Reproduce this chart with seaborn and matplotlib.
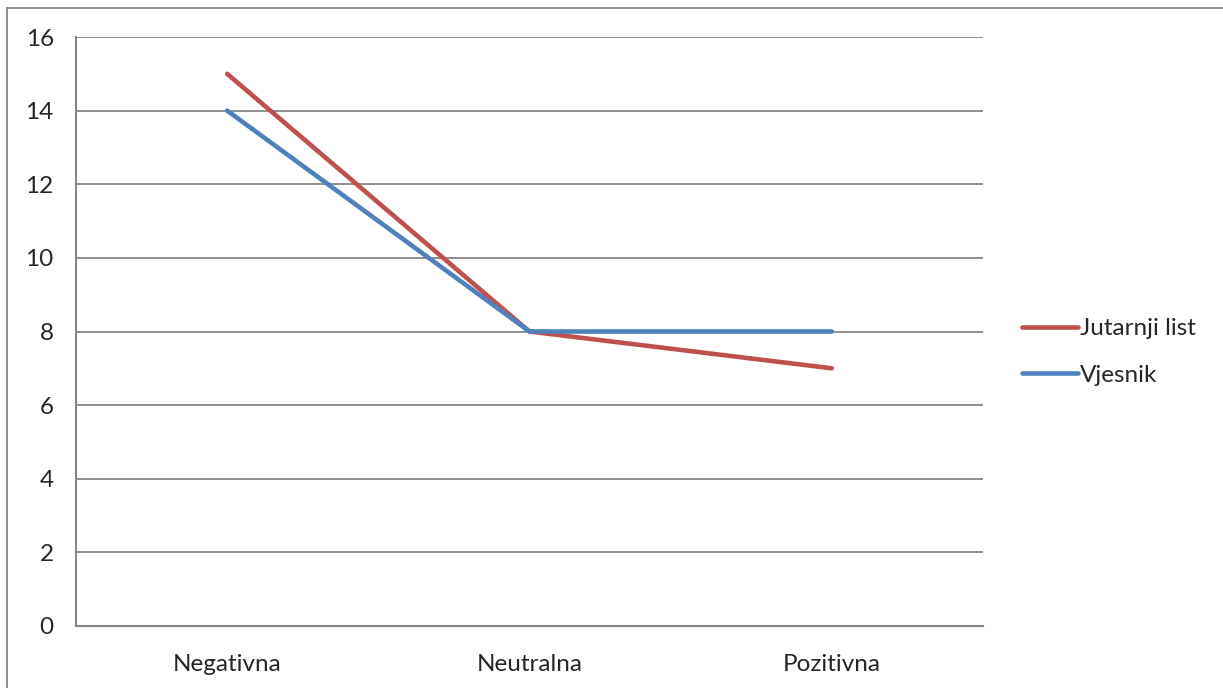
import pandas as pd
import matplotlib
matplotlib.use('Agg')
import matplotlib.pyplot as plt
from matplotlib.lines import Line2D
import seaborn as sns

categories = ['Negativna', 'Neutralna', 'Pozitivna']
jutarnji = [15, 8, 7]
vjesnik = [14, 8, 8]
series_names = ['Jutarnji list', 'Vjesnik']
y_ticks = [0, 2, 4, 6, 8, 10, 12, 14, 16]

sns.set_style('white')
plt.rcParams['font.family'] = ['Lato', 'DejaVu Sans']

df = pd.DataFrame({
    'kategorija': categories * 2,
    'vrijednost': jutarnji + vjesnik,
    'serija': [series_names[0]] * 3 + [series_names[1]] * 3,
})

colors = {'Jutarnji list': '#C0504D', 'Vjesnik': '#4F81BD'}
grid_c = '#868686'
fs = 17.5

fig = plt.figure(figsize=(12.23, 6.88), dpi=100)
ax = fig.add_axes([76 / 1223, 62 / 688, 907 / 1223, 589 / 688])

sns.lineplot(data=df, x='kategorija', y='vrijednost', hue='serija',
             palette=colors, linewidth=3.3, ax=ax, legend=False,
             sort=False, solid_capstyle='round')

ax.set_xlim(-0.5, 2.5)
ax.set_ylim(0, 16)
ax.set_yticks(y_ticks)
ax.set_yticklabels([str(v) for v in y_ticks], fontsize=fs)
ax.set_xticks([-0.5, 0.5, 1.5, 2.5])
ax.set_xticklabels([])
ax.set_xticks([0, 1, 2], minor=True)
ax.set_xticklabels(categories, minor=True, fontsize=fs)
ax.tick_params(axis='x', which='minor', length=0, pad=20)
ax.tick_params(axis='x', which='major', length=6, width=1.5, color=grid_c, direction='out')
ax.tick_params(axis='y', length=6, width=1.5, color=grid_c, direction='out', pad=10)
ax.set_xlabel('')
ax.set_ylabel('')

ax.yaxis.grid(True, color=grid_c, linewidth=1.3)
ax.set_axisbelow(True)
for s in ['top', 'right']:
    ax.spines[s].set_visible(False)
for s in ['left', 'bottom']:
    ax.spines[s].set_color(grid_c)
    ax.spines[s].set_linewidth(1.5)

handles = [Line2D([0], [0], color=colors[n], linewidth=3.3, solid_capstyle='round')
           for n in series_names]
fig.legend(handles, series_names, loc='center left', bbox_to_anchor=(1022 / 1223, 1 - 352 / 688),
           frameon=False, fontsize=fs, handlelength=2.3, handletextpad=0.1, labelspacing=1.05,
           borderaxespad=0, borderpad=0)

# outer chart frame (left and top visible)
fig.add_artist(Line2D([7 / 1223, 7 / 1223], [0, 1 - 8 / 688], color=grid_c, linewidth=1.3,
                      transform=fig.transFigure))
fig.add_artist(Line2D([7 / 1223, 1], [1 - 8 / 688, 1 - 8 / 688], color=grid_c, linewidth=1.3,
                      transform=fig.transFigure))

fig.savefig('out.png', dpi=100)
